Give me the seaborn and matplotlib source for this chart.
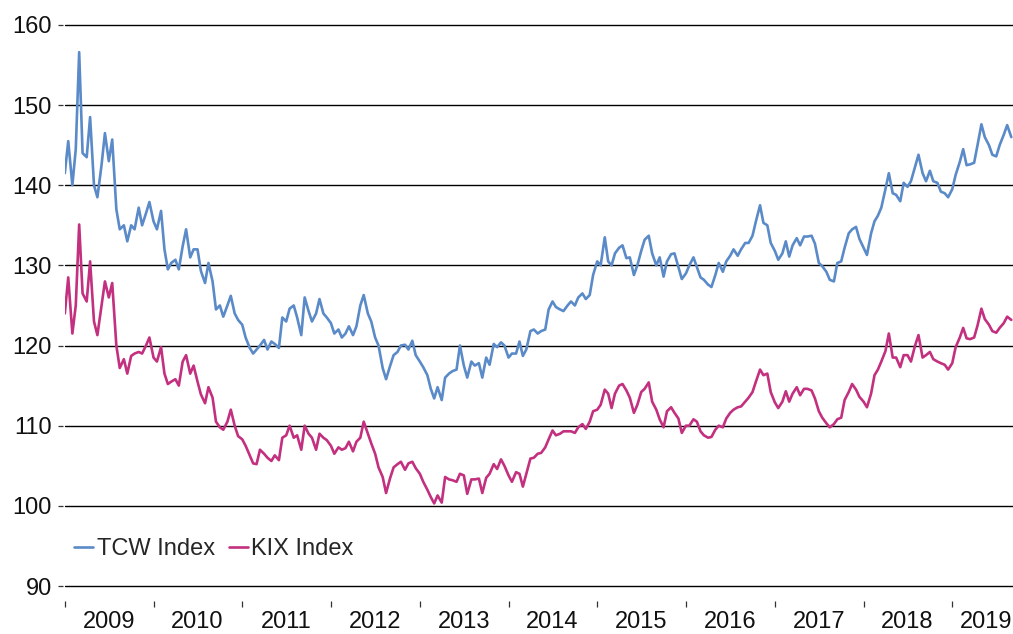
import pandas as pd
import numpy as np
import seaborn as sns
import matplotlib.pyplot as plt
import matplotlib.dates as mdates

# Halvmånadsvisa avläsningar, jan 2009 - sep 2019
dates = pd.date_range("2009-01-01", "2019-09-01", freq="SMS")

tcw = [
    141.5, 145.5, 140.0, 144.5, 156.6, 144.0, 143.5, 148.5, 140.0, 138.5,
    142.5, 146.5, 143.0, 145.7, 137.0, 134.5, 135.0, 133.0, 135.0, 134.5,
    137.2, 135.0, 136.5, 137.9, 135.5, 134.5, 136.8, 132.0, 129.5, 130.3,
    130.7, 129.5, 132.4, 134.5, 131.0, 132.0, 132.0, 129.3, 127.8, 130.3,
    128.0, 124.5, 125.0, 123.6, 125.0, 126.2, 124.0, 123.2, 122.6, 121.0,
    119.7, 119.0, 119.5, 120.0, 120.7, 119.5, 120.5, 120.2, 119.7, 123.5,
    123.0, 124.6, 125.0, 123.5, 121.3, 126.0, 124.3, 123.0, 124.0, 125.8,
    124.0, 123.5, 122.8, 121.5, 122.0, 121.0, 121.5, 122.4, 121.3, 122.4,
    125.0, 126.3, 124.0, 123.0, 121.0, 120.0, 117.2, 115.8, 117.5, 118.8,
    119.2, 120.0, 120.1, 119.5, 120.6, 118.8, 118.0, 117.3, 116.3, 114.6,
    113.4, 114.8, 113.2, 116.0, 116.5, 116.8, 117.0, 120.0, 117.5, 116.0,
    118.0, 117.5, 117.8, 116.0, 118.5, 117.6, 120.2, 119.8, 120.4, 120.0,
    118.5, 119.0, 119.0, 120.5, 118.7, 119.5, 121.8, 122.0, 121.5, 121.8,
    122.0, 124.5, 125.5, 124.8, 124.5, 124.3, 125.0, 125.5, 125.0, 126.0,
    126.5, 125.8, 126.3, 128.8, 130.5, 130.0, 133.5, 130.5, 130.0, 131.5,
    132.2, 132.5, 130.9, 131.0, 128.8, 130.0, 131.8, 133.2, 133.7, 131.5,
    130.0, 131.0, 128.6, 130.5, 131.4, 131.5, 129.8, 128.3, 129.0, 130.0,
    131.0, 129.8, 128.5, 128.2, 127.6, 127.3, 128.8, 130.3, 129.2, 130.5,
    131.2, 132.0, 131.2, 132.0, 132.8, 132.8, 133.7, 135.5, 137.5, 135.3,
    135.0, 132.8, 131.8, 130.7, 131.5, 133.0, 131.1, 132.5, 133.4, 132.5,
    133.6, 133.6, 133.7, 132.7, 130.3, 129.9, 129.2, 128.2, 128.0, 130.3,
    130.5, 132.2, 134.0, 134.5, 134.8, 133.3, 132.2, 131.3, 134.0, 135.5,
    136.2, 137.2, 139.5, 141.5, 139.0, 138.8, 138.0, 140.3, 139.8, 140.5,
    142.3, 143.8, 141.5, 140.5, 141.8, 140.5, 140.3, 139.2, 139.0, 138.5,
    139.5, 141.3, 142.9, 144.5, 142.5, 142.6, 142.8, 145.0, 147.6, 146.0,
    145.0, 143.8, 143.6, 145.0, 146.3, 147.5, 146.0,
]

kix = [
    124.0, 128.5, 121.5, 125.0, 135.1, 126.5, 125.5, 130.5, 123.0, 121.3,
    125.0, 128.0, 126.0, 127.8, 120.0, 117.2, 118.3, 116.5, 118.7, 119.0,
    119.2, 119.0, 120.0, 121.0, 118.5, 118.0, 119.8, 116.5, 115.2, 115.5,
    115.8, 115.0, 118.0, 118.8, 116.5, 117.5, 115.5, 113.9, 112.8, 114.8,
    113.5, 110.5, 109.8, 109.5, 110.5, 112.0, 110.0, 108.7, 108.3, 107.5,
    106.3, 105.3, 105.2, 107.0, 106.5, 106.0, 105.6, 106.3, 105.7, 108.5,
    108.8, 110.0, 108.5, 108.8, 107.0, 110.0, 109.0, 108.5, 107.0, 109.0,
    108.5, 108.2, 107.5, 106.5, 107.3, 107.0, 107.2, 108.0, 106.8, 108.0,
    108.5, 110.5, 109.0, 107.8, 106.5, 104.8, 103.6, 101.6, 103.5, 104.8,
    105.2, 105.5, 104.5, 105.3, 105.5, 104.7, 104.0, 103.0, 102.0, 101.1,
    100.3, 101.3, 100.4, 103.6, 103.3, 103.2, 103.0, 104.0, 103.8, 101.5,
    103.3, 103.3, 103.4, 101.6, 103.5, 104.0, 105.2, 104.6, 105.8, 105.0,
    103.8, 103.0, 104.2, 104.0, 102.4, 104.0, 105.9, 106.0, 106.5, 106.6,
    107.3, 108.3, 109.4, 108.8, 109.0, 109.3, 109.3, 109.3, 109.1, 109.8,
    110.2, 109.6, 110.5, 111.8, 112.0, 112.6, 114.5, 114.0, 112.2, 114.0,
    115.0, 115.2, 114.4, 113.5, 111.6, 112.6, 114.2, 114.6, 115.4, 113.0,
    112.0, 110.8, 109.8, 111.8, 112.3, 111.6, 110.9, 109.1, 110.0, 110.0,
    110.8, 110.5, 109.3, 108.8, 108.5, 108.6, 109.5, 110.0, 109.8, 110.9,
    111.6, 112.0, 112.3, 112.4, 113.0, 113.5, 114.2, 115.5, 117.0, 116.3,
    116.5, 114.2, 112.9, 112.2, 113.0, 114.3, 113.0, 114.0, 114.8, 113.8,
    114.6, 114.6, 114.4, 113.4, 111.8, 111.0, 110.3, 109.8, 110.2, 110.8,
    111.0, 113.2, 114.2, 115.2, 114.5, 113.6, 113.0, 112.3, 114.0, 116.3,
    117.0, 118.0, 119.3, 121.5, 118.5, 118.5, 117.3, 118.8, 118.8, 118.0,
    120.0, 121.3, 118.5, 118.8, 119.2, 118.3, 118.0, 117.8, 117.6, 117.0,
    117.8, 119.8, 121.0, 122.2, 120.9, 120.8, 121.0, 122.5, 124.6, 123.3,
    122.6, 121.8, 121.6, 122.2, 122.8, 123.6, 123.2,
]

series_names = ["TCW Index", "KIX Index"]
years = list(range(2009, 2020))
yticks = list(range(90, 161, 10))

df = pd.DataFrame({"Datum": dates, series_names[0]: tcw, series_names[1]: kix})
long_df = df.melt(id_vars="Datum", var_name="Serie", value_name="Index")

sns.set_style("white")
plt.rcParams["font.family"] = ["Liberation Sans", "DejaVu Sans"]

fig = plt.figure(figsize=(10.13, 6.34), dpi=100)
ax = fig.add_axes([0.064, 0.0757, 0.936, 0.885])

sns.lineplot(data=long_df, x="Datum", y="Index", hue="Serie",
             palette=["#5A8AC8", "#C2307F"], linewidth=1.9, ax=ax)

ax.set_ylim(90, 160)
ax.set_yticks(yticks)
ax.set_xlim(pd.Timestamp("2009-01-01"), pd.Timestamp("2019-09-08"))
ax.grid(False)
for v in yticks:
    ax.axhline(v, color="black", linewidth=1.0, zorder=0.5, clip_on=False)

# årsgränser som tickar, årtal mitt emellan
ax.set_xticks([pd.Timestamp(f"{y}-01-01") for y in years])
ax.set_xticklabels([])
label_pos = [pd.Timestamp(f"{y}-07-01") for y in years[:-1]] + [pd.Timestamp("2019-05-20")]
ax.set_xticks(label_pos, minor=True)
ax.set_xticklabels([str(y) for y in years], minor=True)

for s in ["top", "right"]:
    ax.spines[s].set_visible(False)
ax.spines["bottom"].set_position(("outward", 11))
ax.spines["bottom"].set_visible(False)
ax.spines["left"].set_position(("outward", 1.5))
ax.spines["left"].set_visible(False)

ax.tick_params(axis="x", which="major", direction="out", length=4.5, width=0.9,
               color="#333333", bottom=True)
ax.tick_params(axis="x", which="minor", length=0, pad=7, labelsize=17,
               labelcolor="#111111", bottom=True)
ax.tick_params(axis="y", direction="out", length=3.8, width=0.9, color="#333333",
               left=True, pad=4, labelsize=17, labelcolor="#111111")

ax.set_xlabel("")
ax.set_ylabel("")

handles, labels = ax.get_legend_handles_labels()
ax.legend(handles, labels, loc="center left", bbox_to_anchor=(0.0, 0.066),
          ncol=2, frameon=False, fontsize=17, handlelength=0.8,
          handletextpad=0.15, columnspacing=0.6, borderaxespad=0)

fig.savefig("out.png", dpi=100)
